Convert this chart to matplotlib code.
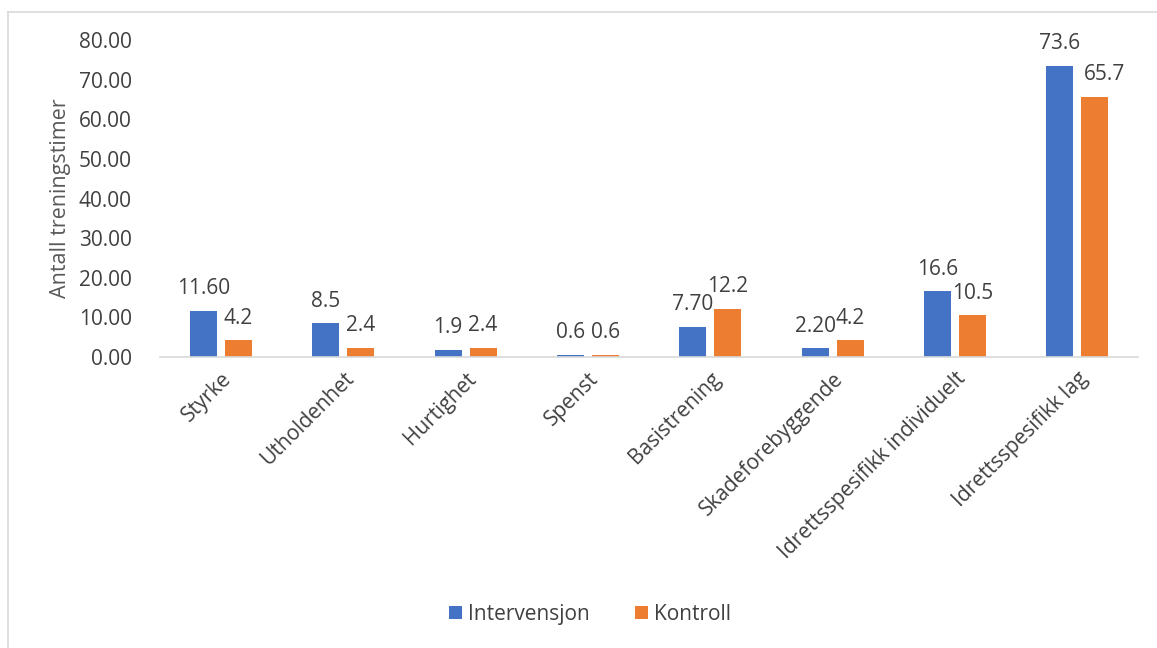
import matplotlib.pyplot as plt
from matplotlib.lines import Line2D
import numpy as np

plt.rcParams['font.family'] = ['Open Sans', 'DejaVu Sans']

categories = ['Styrke', 'Utholdenhet', 'Hurtighet', 'Spenst', 'Basistrening',
              'Skadeforebyggende', 'Idrettsspesifikk individuelt', 'Idrettsspesifikk lag']
intervensjon = [11.6, 8.5, 1.9, 0.6, 7.7, 2.2, 16.6, 73.6]
kontroll = [4.2, 2.4, 2.4, 0.6, 12.2, 4.2, 10.5, 65.7]
int_labels = ['11.60', '8.5', '1.9', '0.6', '7.70', '2.20', '16.6', '73.6']
kon_labels = ['4.2', '2.4', '2.4', '0.6', '12.2', '4.2', '10.5', '65.7']
yticks = [0, 10, 20, 30, 40, 50, 60, 70, 80]

blue = '#4472C4'
orange = '#ED7D31'
txt = '#404040'

fig = plt.figure(figsize=(11.57, 6.48), dpi=100)
ax = fig.add_axes([0.138, 0.449, 0.846, 0.489])

x = np.arange(len(categories))
w = 0.22
off = 0.143
b1 = ax.bar(x - off, intervensjon, w, color=blue, label='Intervensjon')
b2 = ax.bar(x + off, kontroll, w, color=orange, label='Kontroll')

for bars, labs, dx in [(b1, int_labels, 0), (b2, kon_labels, 1)]:
    for i, (rect, lab) in enumerate(zip(bars, labs)):
        # Excel nudges the last orange label right so it clears the tall blue bar
        shift = 7 if (dx and i == len(labs) - 1) else 0
        ax.annotate(lab, (rect.get_x() + rect.get_width() / 2, rect.get_height()),
                    xytext=(shift, 16), textcoords='offset points', ha='center', va='center',
                    fontsize=15, color=txt, annotation_clip=False)

ax.set_xlim(-0.5, len(categories) - 0.5)
ax.set_ylim(0, 80)
ax.set_yticks(yticks)
ax.set_yticklabels([f'{v:.2f}' for v in yticks], fontsize=15, color=txt)
ax.set_xticks(x)
ax.set_xticklabels(categories, rotation=45, ha='right', rotation_mode='anchor',
                   fontsize=15, color=txt)
ax.tick_params(axis='both', length=0)
ax.tick_params(axis='y', pad=20)
ax.tick_params(axis='x', pad=8)
ax.set_ylabel('Antall treningstimer', fontsize=15.5, color='#595959', labelpad=6)

for s in ['top', 'right', 'left']:
    ax.spines[s].set_visible(False)
ax.spines['bottom'].set_color('#D9D9D9')
ax.spines['bottom'].set_linewidth(1.2)

leg = fig.legend(handles=[b1, b2], loc='center', bbox_to_anchor=(0.51, 0.052), ncol=2,
                 frameon=False, fontsize=15, handlelength=0.6, handleheight=0.6,
                 columnspacing=2.2, handletextpad=0.3)
for t in leg.get_texts():
    t.set_color(txt)

# outer chart border (only left and top visible in reference)
fig.add_artist(Line2D([8 / 1157, 8 / 1157], [0, 1 - 12 / 648], color='#D9D9D9', lw=1.2))
fig.add_artist(Line2D([8 / 1157, 1], [1 - 12 / 648, 1 - 12 / 648], color='#D9D9D9', lw=1.2))

fig.savefig('out.png', dpi=100)
